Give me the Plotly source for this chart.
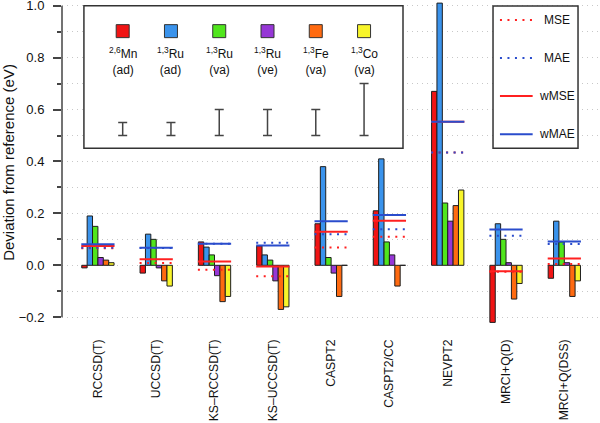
import plotly.graph_objects as go

# ---------------- data ----------------
methods = ["RCCSD(T)", "UCCSD(T)", "KS\u2013RCCSD(T)", "KS\u2013UCCSD(T)", "CASPT2",
           "CASPT2/CC", "NEVPT2", "MRCI+Q(D)", "MRCI+Q(DSS)"]

series_labels = ["<sup>2,6</sup>Mn<br>(ad)", "<sup>1,3</sup>Ru<br>(ad)", "<sup>1,3</sup>Ru<br>(va)",
                 "<sup>1,3</sup>Ru<br>(ve)", "<sup>1,3</sup>Fe<br>(va)", "<sup>1,3</sup>Co<br>(va)"]

mn26_ad = [-0.01, -0.03, 0.09, 0.075, 0.16, 0.21, 0.67, -0.22, -0.05]
ru13_ad = [0.19, 0.12, 0.07, 0.04, 0.38, 0.41, 1.01, 0.16, 0.17]
ru13_va = [0.15, 0.10, 0.04, 0.02, 0.03, 0.09, 0.24, 0.10, 0.09]
ru13_ve = [0.03, -0.01, -0.04, -0.06, -0.03, 0.04, 0.17, 0.01, 0.01]
fe13_va = [0.02, -0.06, -0.14, -0.17, -0.12, -0.08, 0.23, -0.13, -0.12]
co13_va = [0.01, -0.08, -0.12, -0.16, 0.0, 0.0, 0.29, -0.07, -0.06]

mse = [0.066, 0.009, -0.017, -0.042, 0.069, 0.110, 0.435, -0.025, 0.005]
mae = [0.068, 0.067, 0.083, 0.087, 0.120, 0.139, 0.435, 0.114, 0.082]
wmse = [0.074, 0.023, 0.015, -0.005, 0.129, 0.172, 0.553, -0.023, 0.026]
wmae = [0.081, 0.068, 0.083, 0.076, 0.170, 0.194, 0.553, 0.138, 0.092]

# uncertainty ranges shown in the top legend (drawn upward from 0.5)
uncert = [0.05, 0.05, 0.10, 0.10, 0.10, 0.20]

y_ticks = [-0.2, 0.0, 0.2, 0.4, 0.6, 0.8, 1.0]

# ---------------- style ----------------
bar_colors = ["#f01414", "#3a93ec", "#50e61c", "#9637d6", "#ff6a10", "#f8f52a"]
RED = "#ff2020"
BLUE = "#2a4ccc"
FONT = "Liberation Sans, Arial, Helvetica, sans-serif"

series = [mn26_ad, ru13_ad, ru13_va, ru13_ve, fe13_va, co13_va]
xidx = list(range(len(methods)))

fig = go.Figure()

for vals, col in zip(series, bar_colors):
    fig.add_trace(go.Bar(x=xidx, y=vals, marker=dict(color=col, line=dict(color="#1e1e1e", width=1)),
                         showlegend=False, hoverinfo="skip"))

HALF = 0.285


def segs(vals):
    xs, ys = [], []
    for i, v in enumerate(vals):
        xs += [i - HALF, i + HALF, None]
        ys += [v, v, None]
    return xs, ys


DOT = "2px,5.5px"
for vals, col, dash in [(mse, RED, DOT), (mae, BLUE, DOT), (wmse, RED, "solid"), (wmae, BLUE, "solid")]:
    xs, ys = segs(vals)
    fig.add_trace(go.Scatter(x=xs, y=ys, mode="lines", line=dict(color=col, width=2, dash=dash),
                             showlegend=False, hoverinfo="skip"))

# ---------------- top legend (series) ----------------
LEG_X0, LEG_DX = 0.425, 0.828
leg_x = [LEG_X0 + LEG_DX * k for k in range(len(series))]
fig.add_shape(type="rect", xref="x", yref="y", x0=-0.24, x1=5.233, y0=0.451, y1=1.0,
              line=dict(color="#333", width=1.5), fillcolor="white", layer="between")
fig.add_trace(go.Scatter(x=leg_x, y=[0.902] * len(leg_x), mode="markers",
                         marker=dict(symbol="square", size=13, color=bar_colors,
                                     line=dict(color="#333", width=1)),
                         showlegend=False, hoverinfo="skip"))
fig.add_trace(go.Scatter(x=leg_x, y=[0.5 + u / 2 for u in uncert], mode="markers",
                         marker=dict(size=1, color="rgba(0,0,0,0)"),
                         error_y=dict(type="data", array=[u / 2 for u in uncert], visible=True,
                                      color="#444", thickness=1.5, width=4.5),
                         showlegend=False, hoverinfo="skip"))
for xx, lab in zip(leg_x, series_labels):
    fig.add_annotation(x=xx, y=0.855, xref="x", yref="y", text=lab, showarrow=False,
                       xanchor="center", yanchor="top", font=dict(size=12, color="#111", family=FONT))

# ---------------- right legend (statistics) ----------------
fig.add_shape(type="rect", xref="x", yref="y", x0=6.777, x1=8.235, y0=0.451, y1=0.999,
              line=dict(color="#333", width=1.5), fillcolor="white", layer="between")
stat_names = ["MSE", "MAE", "wMSE", "wMAE"]
stat_y = [0.945, 0.799, 0.652, 0.505]
stat_style = [(RED, DOT), (BLUE, DOT), (RED, "solid"), (BLUE, "solid")]
for nm, yy, (col, dash) in zip(stat_names, stat_y, stat_style):
    fig.add_trace(go.Scatter(x=[6.896, 7.457], y=[yy, yy], mode="lines",
                             line=dict(color=col, width=2, dash=dash), showlegend=False, hoverinfo="skip"))
    fig.add_annotation(x=7.866, y=yy, xref="x", yref="y", text=nm, showarrow=False,
                       xanchor="center", yanchor="middle", font=dict(size=12, color="#111", family=FONT))

# y axis line (spans tick range only)
fig.add_shape(type="line", xref="paper", yref="y", x0=0, x1=0, y0=-0.2, y1=1.0,
              line=dict(color="#444", width=1.5), layer="above")

fig.update_layout(
    width=600, height=423,
    margin=dict(l=62, r=0, t=0, b=98, autoexpand=False),
    paper_bgcolor="white", plot_bgcolor="white",
    font=dict(family=FONT, color="#111"),
    barmode="group", bargap=0.446, bargroupgap=0,
    showlegend=False,
    xaxis=dict(range=[-0.616, 8.612], tickmode="array", tickvals=xidx, ticktext=methods,
               tickangle=-90, showgrid=False, zeroline=False, showline=False, ticks="",
               tickfont=dict(size=12.2, color="#111"), ticklabelstandoff=11,
               automargin=False, ticklabeloverflow="allow"),
    yaxis=dict(range=[-0.23, 1.022], tickmode="array", tickvals=y_ticks,
               ticktext=[f"{v:.1f}".replace("-", "\u2212") for v in y_ticks],
               ticks="outside", ticklen=8, tickwidth=1.5, tickcolor="#444",
               showline=False, zeroline=False,
               showgrid=True, gridcolor="#c8c8c8", gridwidth=1, griddash="1px,4px",
               minor=dict(dtick=0.1, tick0=0, ticks="outside", ticklen=4, tickwidth=1.5, tickcolor="#444",
                          showgrid=True, gridcolor="#c8c8c8", gridwidth=1, griddash="1px,4px"),
               tickfont=dict(size=13, color="#111"), ticklabelstandoff=6,
               automargin=False, ticklabeloverflow="allow",
               title=dict(text="Deviation from reference (eV)", font=dict(size=15, color="#111"), standoff=6)),
)

# remove the browser's default 8px page margin so the figure sits at the window origin
fig.write_html("out.html", config={"displayModeBar": False},
               post_script="document.body.style.margin='0';")
